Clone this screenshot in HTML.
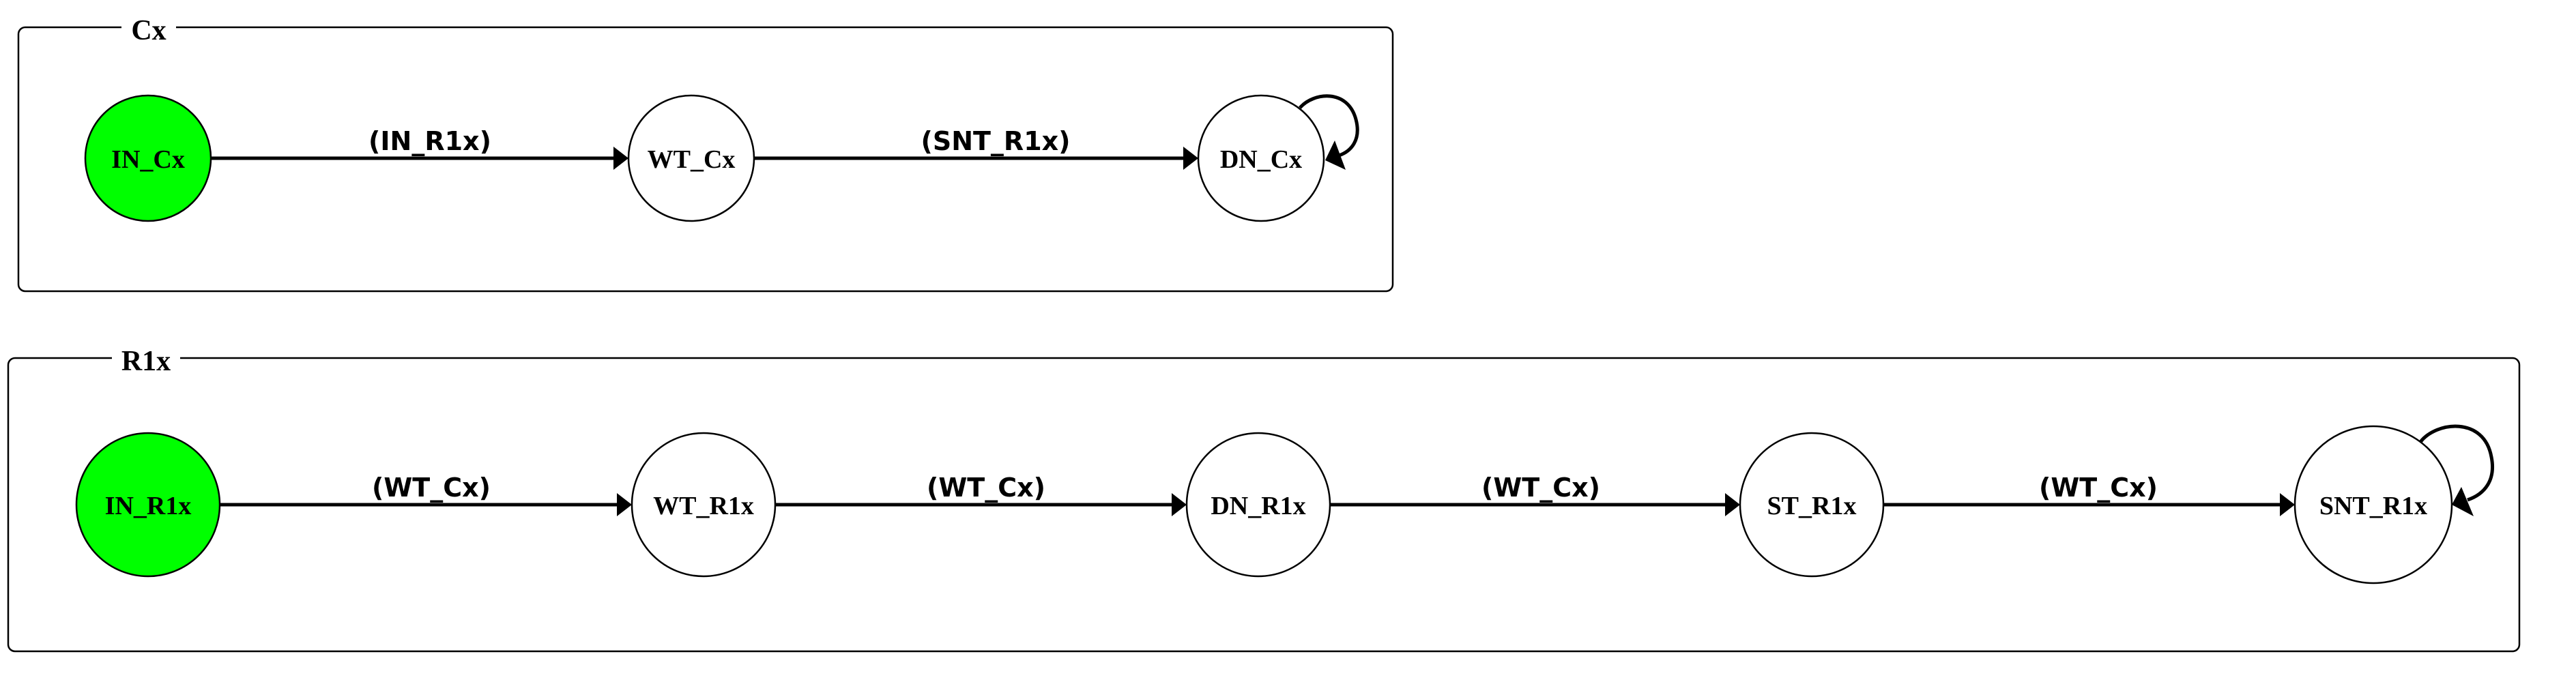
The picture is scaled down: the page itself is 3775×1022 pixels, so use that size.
<!DOCTYPE html>
<html><head><meta charset="utf-8"><style>
html,body{margin:0;padding:0;background:#fff;}
svg{display:block;}
.t{font-family:"Liberation Serif",serif;font-weight:bold;}
.l{font-family:"DejaVu Sans","Liberation Sans",sans-serif;font-weight:bold;font-size:38px;}
</style></head><body>
<svg width="3775" height="1022" viewBox="0 0 3775 1022" xmlns="http://www.w3.org/2000/svg">
<!-- Cx cluster -->
<rect x="27" y="40" width="2014" height="387" rx="10" fill="none" stroke="#000" stroke-width="2.5"/>
<rect x="178" y="25" width="80" height="30" fill="#fff"/>
<text class="t" x="218" y="58" font-size="42" text-anchor="middle">Cx</text>

<circle cx="217" cy="232" r="92" fill="#00ff00" stroke="#000" stroke-width="2.5"/>
<circle cx="1013" cy="232" r="92" fill="#fff" stroke="#000" stroke-width="2.5"/>
<circle cx="1848" cy="232" r="92" fill="#fff" stroke="#000" stroke-width="2.5"/>
<text class="t" x="217" y="246" font-size="38" text-anchor="middle">IN_Cx</text>
<text class="t" x="1013" y="246" font-size="38" text-anchor="middle">WT_Cx</text>
<text class="t" x="1848" y="246" font-size="38" text-anchor="middle">DN_Cx</text>

<line x1="309" y1="232" x2="902" y2="232" stroke="#000" stroke-width="5"/>
<polygon points="921,232 899,215 899,249" fill="#000"/>
<text class="l" x="630" y="220" text-anchor="middle">(IN_R1x)</text>
<line x1="1105" y1="232" x2="1737" y2="232" stroke="#000" stroke-width="5"/>
<polygon points="1756,232 1734,215 1734,249" fill="#000"/>
<text class="l" x="1459" y="220" text-anchor="middle">(SNT_R1x)</text>

<path d="M1905,158 C1925,135 1975,130 1987,175 C1995,205 1980,222 1962,228" fill="none" stroke="#000" stroke-width="5"/>
<polygon points="1942,235 1956,206 1972,249" fill="#000"/>

<!-- R1x cluster -->
<rect x="12" y="525" width="3680" height="430" rx="10" fill="none" stroke="#000" stroke-width="2.5"/>
<rect x="164" y="510" width="100" height="30" fill="#fff"/>
<text class="t" x="214" y="543" font-size="42" text-anchor="middle">R1x</text>

<circle cx="217" cy="740" r="105" fill="#00ff00" stroke="#000" stroke-width="2.5"/>
<circle cx="1031" cy="740" r="105" fill="#fff" stroke="#000" stroke-width="2.5"/>
<circle cx="1844" cy="740" r="105" fill="#fff" stroke="#000" stroke-width="2.5"/>
<circle cx="2655" cy="740" r="105" fill="#fff" stroke="#000" stroke-width="2.5"/>
<circle cx="3478" cy="740" r="115" fill="#fff" stroke="#000" stroke-width="2.5"/>
<text class="t" x="217" y="754" font-size="38" text-anchor="middle">IN_R1x</text>
<text class="t" x="1031" y="754" font-size="38" text-anchor="middle">WT_R1x</text>
<text class="t" x="1844" y="754" font-size="38" text-anchor="middle">DN_R1x</text>
<text class="t" x="2655" y="754" font-size="38" text-anchor="middle">ST_R1x</text>
<text class="t" x="3478" y="754" font-size="38" text-anchor="middle">SNT_R1x</text>

<line x1="322" y1="740" x2="907" y2="740" stroke="#000" stroke-width="5"/>
<polygon points="926,740 904,723 904,757" fill="#000"/>
<text class="l" x="632" y="728" text-anchor="middle">(WT_Cx)</text>
<line x1="1136" y1="740" x2="1720" y2="740" stroke="#000" stroke-width="5"/>
<polygon points="1739,740 1717,723 1717,757" fill="#000"/>
<text class="l" x="1445" y="728" text-anchor="middle">(WT_Cx)</text>
<line x1="1949" y1="740" x2="2531" y2="740" stroke="#000" stroke-width="5"/>
<polygon points="2550,740 2528,723 2528,757" fill="#000"/>
<text class="l" x="2258" y="728" text-anchor="middle">(WT_Cx)</text>
<line x1="2760" y1="740" x2="3344" y2="740" stroke="#000" stroke-width="5"/>
<polygon points="3363,740 3341,723 3341,757" fill="#000"/>
<text class="l" x="3075" y="728" text-anchor="middle">(WT_Cx)</text>

<path d="M3547,648 C3570,618 3640,610 3651,670 C3658,705 3640,725 3616,733" fill="none" stroke="#000" stroke-width="5"/>
<polygon points="3593,740 3607,714 3625,757" fill="#000"/>
</svg>
</body></html>
